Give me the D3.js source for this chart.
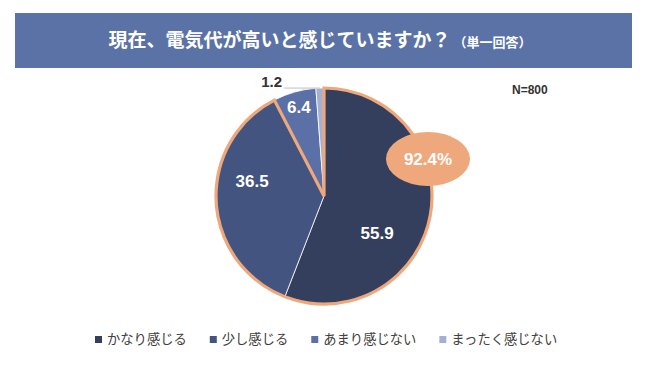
<!DOCTYPE html>
<html><head><meta charset="utf-8">
<script src="https://cdn.jsdelivr.net/npm/d3@7"></script>
<style>body{margin:0;background:#fff}svg{display:block}text{font-family:"Noto Sans CJK JP","Noto Sans",sans-serif}.num{font-family:"Liberation Sans",Arial,sans-serif}</style>
</head><body><svg id="c" width="650" height="365"></svg>
<script>
const categories = ["かなり感じる","少し感じる","あまり感じない","まったく感じない"];
const values = [55.9, 36.5, 6.4, 1.2];
const highlightLabel = "92.4%";
const titleMain = "現在、電気代が高いと感じていますか？";
const titleSub = "（単一回答）";
const nLabel = "N=800";

const colors = ["#343f5e","#435480","#5a70a6","#a5b0d0"];
const orange = "#efa87b";
const svg = d3.select("#c");

// banner
svg.append("rect").attr("x",15).attr("y",13).attr("width",617).attr("height",55).attr("fill","#5a72a5");
const t = svg.append("text").attr("x",320).attr("y",47).attr("text-anchor","middle").attr("fill","#fff").attr("font-weight","bold");
t.append("tspan").attr("font-size",19).text(titleMain);
t.append("tspan").attr("font-size",13).attr("dx",3).text(titleSub);

svg.append("text").attr("class","num").attr("x",512).attr("y",94).attr("font-size",12).attr("font-weight","bold").attr("fill","#333").text(nLabel);

const cx = 324, cy = 196, R = 108;
const g = svg.append("g").attr("transform",`translate(${cx},${cy})`);
const pie = d3.pie().sort(null).value(d=>d)(values);
const arc = d3.arc().innerRadius(0).outerRadius(R);
g.selectAll("path.s").data(pie).join("path").attr("class","s")
  .attr("d",arc).attr("fill",(d,i)=>colors[i]).attr("stroke","#fff").attr("stroke-width",0.8);

// orange outline around the first two slices (92.4%)
const total = d3.sum(values);
const endA = (values[0]+values[1])/total*2*Math.PI;
g.append("path").attr("d",d3.arc().innerRadius(0).outerRadius(R)({startAngle:0,endAngle:endA}))
  .attr("fill","none").attr("stroke",orange).attr("stroke-width",3.2).attr("stroke-linejoin","miter");

// labels
const labelR = [54, 72, 92, 0];
const labelDy = [27, -19, 0, 0];
pie.forEach((d,i)=>{
  if(i===3) return;
  const a = (d.startAngle+d.endAngle)/2;
  const x = Math.sin(a)*labelR[i], y = -Math.cos(a)*labelR[i]+labelDy[i];
  g.append("text").attr("class","num").attr("x",x).attr("y",y).attr("dy","0.35em").attr("text-anchor","middle")
    .attr("font-size",17).attr("font-weight","bold").attr("fill","#fff").text(values[i]);
});
// small slice label with leader
{
  const d = pie[3];
  const a = (d.startAngle+d.endAngle)/2;
  const px = Math.sin(a)*R, py = -Math.cos(a)*R;
  g.append("line").attr("x1",px).attr("y1",py).attr("x2",-40).attr("y2",py).attr("stroke","#bfbfbf").attr("stroke-width",1);
  g.append("text").attr("class","num").attr("x",-42).attr("y",py-1).attr("text-anchor","end").attr("font-size",15).attr("font-weight","bold").attr("fill","#333").text(values[3]);
}

// highlight ellipse
svg.append("ellipse").attr("cx",428).attr("cy",159).attr("rx",42).attr("ry",27).attr("fill",orange);
svg.append("text").attr("class","num").attr("x",428).attr("y",159).attr("dy","0.35em").attr("text-anchor","middle").attr("font-size",17).attr("font-weight","bold").attr("fill","#fff").text(highlightLabel);

// legend
const lg = svg.append("g");
let lx = 95;
categories.forEach((c,i)=>{
  lg.append("rect").attr("x",lx).attr("y",336).attr("width",7).attr("height",7).attr("fill",colors[i]);
  const tx = lg.append("text").attr("x",lx+12).attr("y",339.5).attr("dy","0.35em").attr("font-size",13.3).attr("fill","#404040").text(c);
  lx += 12 + tx.node().getComputedTextLength() + 23;
});
</script></body></html>
